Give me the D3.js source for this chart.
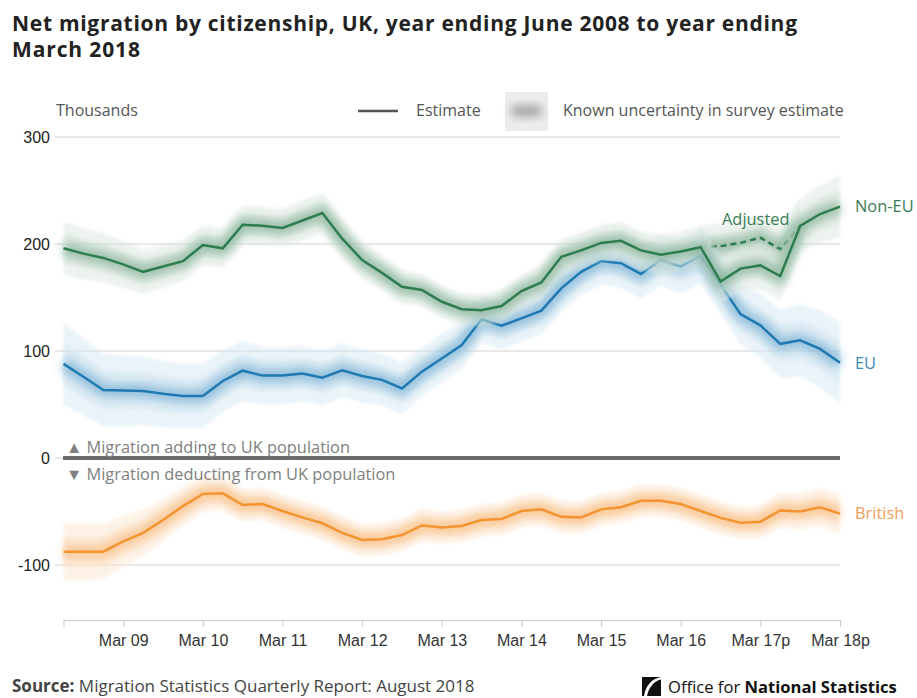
<!DOCTYPE html>
<html>
<head>
<meta charset="utf-8">
<script src="https://cdn.jsdelivr.net/npm/d3@7"></script>
<style>
  html, body { margin: 0; padding: 0; background: #fff; }
  svg { display: block; font-family: "Open Sans", "Noto Sans", sans-serif; }
</style>
</head>
<body>
<svg id="chart" width="917" height="698"></svg>
<script>
// Quarterly periods, year ending June 2008 to year ending March 2018
const quarters = [
  "Jun 08","Sep 08","Dec 08","Mar 09","Jun 09","Sep 09","Dec 09","Mar 10",
  "Jun 10","Sep 10","Dec 10","Mar 11","Jun 11","Sep 11","Dec 11","Mar 12",
  "Jun 12","Sep 12","Dec 12","Mar 13","Jun 13","Sep 13","Dec 13","Mar 14",
  "Jun 14","Sep 14","Dec 14","Mar 15","Jun 15","Sep 15","Dec 15","Mar 16",
  "Jun 16","Sep 16","Dec 16","Mar 17","Jun 17","Sep 17","Dec 17","Mar 18"
];
const tickQuarters = ["Mar 09","Mar 10","Mar 11","Mar 12","Mar 13","Mar 14","Mar 15","Mar 16","Mar 17","Mar 18"];
const tickLabels   = ["Mar 09","Mar 10","Mar 11","Mar 12","Mar 13","Mar 14","Mar 15","Mar 16","Mar 17p","Mar 18p"];
const yTicks = [-100, 0, 100, 200, 300];

// Net migration, thousands
const nonEU = [196,191,187,181,174,179,184,199,196,218,217,215,222,229,205,185,173,160,157,146,
               139,138,142,156,164,188,194,201,203,194,190,193,197,165,177,180,170,217,228,235];
const nonEUAdjusted = [null,null,null,null,null,null,null,null,null,null,null,null,null,null,null,null,
               null,null,null,null,null,null,null,null,null,null,null,null,null,null,null,null,
               197,198,201,206,195,217,null,null];
const eu = [88,76,63.5,63,62.6,60,58,58,72,81.6,77,77,79,75,82,76.6,73,65,80.7,93,
            105.6,129.6,123.6,130.5,137.7,158.6,174,184,182,172,185,179,189,162,134.6,124,106.7,110,102,89];
const british = [-87.5,-87.5,-87.5,-78,-70,-58,-45,-33.6,-33,-44,-43,-49.5,-55.5,-61,-70,-76.6,-76,-72,-63,-65,
                 -63.5,-58,-57,-49.5,-48,-55,-55.5,-48,-46,-40,-40,-43,-49.5,-56,-60.5,-59.5,-49,-50,-46,-52];

// Half-width of the survey uncertainty range, thousands
const ciNonEU = [25,24,23,22,21,20,19,19,18,18,18,18,19,19,18,17,16,16,15,15,
                 15,15,15,15,16,16,17,17,18,18,19,19,20,21,21,22,23,25,27,29];
const ciEU = [38,36,34,33,32,31,30,30,29,28,27,27,26,26,25,25,24,24,23,23,
              22,22,22,22,22,22,22,22,23,23,24,25,26,27,28,30,32,34,36,38];
const ciBritish = [27,27,26,24,22,20,18,17,16,15,15,15,15,15,15,15,15,15,15,15,
                   15,15,15,15,15,15,15,15,15,15,15,15,15,15,15,15,16,17,18,19];

const svg = d3.select("#chart");
const defs = svg.append("defs");
const tickFont = "'Liberation Sans', Arial, sans-serif";

const x = d3.scalePoint().domain(quarters).range([63.5, 840]);
const y = d3.scaleLinear().domain([-151.4, 300]).range([620, 137]);

defs.append("filter").attr("id", "glow").attr("x", "-10%").attr("y", "-50%").attr("width", "120%").attr("height", "200%")
  .append("feGaussianBlur").attr("stdDeviation", 5);
defs.append("filter").attr("id", "soft").attr("x", "-10%").attr("y", "-50%").attr("width", "120%").attr("height", "200%")
  .append("feGaussianBlur").attr("stdDeviation", 1.5);
defs.append("filter").attr("id", "legendBlur").attr("x", "-50%").attr("y", "-50%").attr("width", "200%").attr("height", "200%")
  .append("feGaussianBlur").attr("stdDeviation", 4);

// Title
const title = svg.append("text").attr("font-size", 21).attr("font-weight", 700).attr("fill", "#222");
title.append("tspan").attr("x", 12).attr("y", 31).attr("textLength", 785)
  .text("Net migration by citizenship, UK, year ending June 2008 to year ending");
title.append("tspan").attr("x", 12).attr("y", 57).attr("textLength", 128).text("March 2018");

// Legend
svg.append("text").attr("x", 56).attr("y", 116).attr("font-size", 16).attr("fill", "#555").text("Thousands");
svg.append("line").attr("x1", 358).attr("x2", 398).attr("y1", 111).attr("y2", 111)
  .attr("stroke", "#555").attr("stroke-width", 2.5);
svg.append("text").attr("x", 416).attr("y", 116).attr("font-size", 16).attr("fill", "#555").text("Estimate");
svg.append("rect").attr("x", 505).attr("y", 92).attr("width", 43).attr("height", 39).attr("fill", "#ececec");
svg.append("rect").attr("x", 511).attr("y", 105).attr("width", 31).attr("height", 12).attr("rx", 6)
  .attr("fill", "#a8a8a8").attr("filter", "url(#legendBlur)");
svg.append("text").attr("x", 563).attr("y", 116).attr("font-size", 16).attr("fill", "#555").text("Known uncertainty in survey estimate");

// Gridlines and y labels
const grid = svg.append("g");
grid.selectAll("line").data(yTicks.filter(d => d !== 0)).join("line")
  .attr("x1", 55).attr("x2", 840).attr("y1", d => y(d)).attr("y2", d => y(d))
  .attr("stroke", "#d0d0d0").attr("stroke-width", 1);
grid.append("line").attr("x1", 55).attr("x2", 63).attr("y1", y(0)).attr("y2", y(0))
  .attr("stroke", "#d0d0d0").attr("stroke-width", 1);
grid.selectAll("text").data(yTicks).join("text")
  .attr("x", 50).attr("y", d => y(d)).attr("dy", "0.35em").attr("text-anchor", "end")
  .attr("font-size", 16).attr("font-family", tickFont).attr("fill", "#222").text(d => d);

// X axis
const xAxis = d3.axisBottom(x)
  .tickValues(["Jun 08"].concat(tickQuarters))
  .tickSize(7).tickPadding(8)
  .tickFormat(d => { const i = tickQuarters.indexOf(d); return i >= 0 ? tickLabels[i] : ""; });
const gx = svg.append("g").attr("transform", "translate(0,620)").call(xAxis);
gx.select(".domain").attr("stroke", "#ccc").attr("d", "M63.5,0.5H840");
gx.selectAll(".tick line").attr("stroke", "#ccc");
gx.selectAll(".tick text").attr("font-size", 16).attr("fill", "#333").attr("font-family", tickFont);

// Series with uncertainty bands
function drawSeries(values, ci, color, tint) {
  const g = svg.append("g");
  const area = d3.area().defined(d => d[1] != null)
    .x(d => x(d[0])).y0(d => y(d[1] - d[2])).y1(d => y(d[1] + d[2]));
  const rows = quarters.map((q, i) => [q, values[i], ci[i]]);
  g.append("path").datum(rows).attr("d", area).attr("fill", tint).attr("opacity", 0.5).attr("filter", "url(#soft)");
  const inner = d3.area().defined(d => d[1] != null)
    .x(d => x(d[0])).y0(d => y(d[1] - d[2] * 0.55)).y1(d => y(d[1] + d[2] * 0.55));
  g.append("path").datum(rows).attr("d", inner).attr("fill", tint).attr("opacity", 0.55).attr("filter", "url(#soft)");
  const line = d3.line().defined(d => d[1] != null).x(d => x(d[0])).y(d => y(d[1]));
  g.append("path").datum(rows).attr("d", line).attr("fill", "none")
    .attr("stroke", color).attr("stroke-width", 14).attr("opacity", 0.38).attr("filter", "url(#glow)");
  return { g, rows, line };
}

const sNon = drawSeries(nonEU, ciNonEU, "#2e7d50", "#dde8e0");
const sAdj = drawSeries(nonEUAdjusted, ciNonEU, "#2e7d50", "#dde8e0");
const sEU = drawSeries(eu, ciEU, "#1f7ab3", "#d6e8f3");
const sBr = drawSeries(british, ciBritish, "#f39431", "#fde7d1");

// Zero line
svg.append("line").attr("x1", 63).attr("x2", 840).attr("y1", y(0)).attr("y2", y(0))
  .attr("stroke", "#6b6b6b").attr("stroke-width", 4);

// Estimate lines
sBr.g.append("path").datum(sBr.rows).attr("d", sBr.line).attr("fill", "none").attr("stroke", "#f39431").attr("stroke-width", 2.5);
sEU.g.append("path").datum(sEU.rows).attr("d", sEU.line).attr("fill", "none").attr("stroke", "#1f7ab3").attr("stroke-width", 2.5);
sAdj.g.append("path").datum(sAdj.rows).attr("d", sAdj.line).attr("fill", "none").attr("stroke", "#2e7d50")
  .attr("stroke-width", 2.5).attr("stroke-dasharray", "6,4");
sNon.g.append("path").datum(sNon.rows).attr("d", sNon.line).attr("fill", "none").attr("stroke", "#2e7d50").attr("stroke-width", 2.5);
svg.node().appendChild(sNon.g.node());

// Direction notes
svg.append("text").attr("x", 66).attr("y", 453).attr("font-size", 16.4).attr("fill", "#808080")
  .text("\u25B2 Migration adding to UK population");
svg.append("text").attr("x", 66).attr("y", 480).attr("font-size", 16.4).attr("fill", "#808080")
  .text("\u25BC Migration deducting from UK population");

// Series labels
svg.append("text").attr("x", 855).attr("y", y(nonEU[39])).attr("dy", "0.35em").attr("font-size", 16.4).attr("fill", "#3a7d55").text("Non-EU");
svg.append("text").attr("x", 855).attr("y", y(eu[39])).attr("dy", "0.35em").attr("font-size", 16.4).attr("fill", "#3d88b8").text("EU");
svg.append("text").attr("x", 855).attr("y", y(british[39])).attr("dy", "0.35em").attr("font-size", 16.4).attr("fill", "#f0a05a").text("British");
svg.append("text").attr("x", 722).attr("y", 225).attr("font-size", 16.4).attr("fill", "#3a7d55").text("Adjusted");

// Source
const src = svg.append("text").attr("x", 12).attr("y", 692).attr("font-size", 17).attr("fill", "#444");
src.append("tspan").attr("font-weight", 700).text("Source:");
src.append("tspan").text(" Migration Statistics Quarterly Report: August 2018");

// ONS logo
const logo = svg.append("g").attr("transform", "translate(642,677)");
logo.append("path").attr("d", "M0,0 H19 V19 H0 Z").attr("fill", "#111");
logo.append("path").attr("d", "M19,0 C9.5,2 4,8 2,19 L5,19 C7,10 12,4 19,2.5 Z").attr("fill", "#fff");
const lt = svg.append("text").attr("x", 668).attr("y", 693).attr("font-size", 16.6).attr("fill", "#111");
lt.append("tspan").text("Office for ");
lt.append("tspan").attr("font-weight", 700).text("National Statistics");
</script>
</body>
</html>
